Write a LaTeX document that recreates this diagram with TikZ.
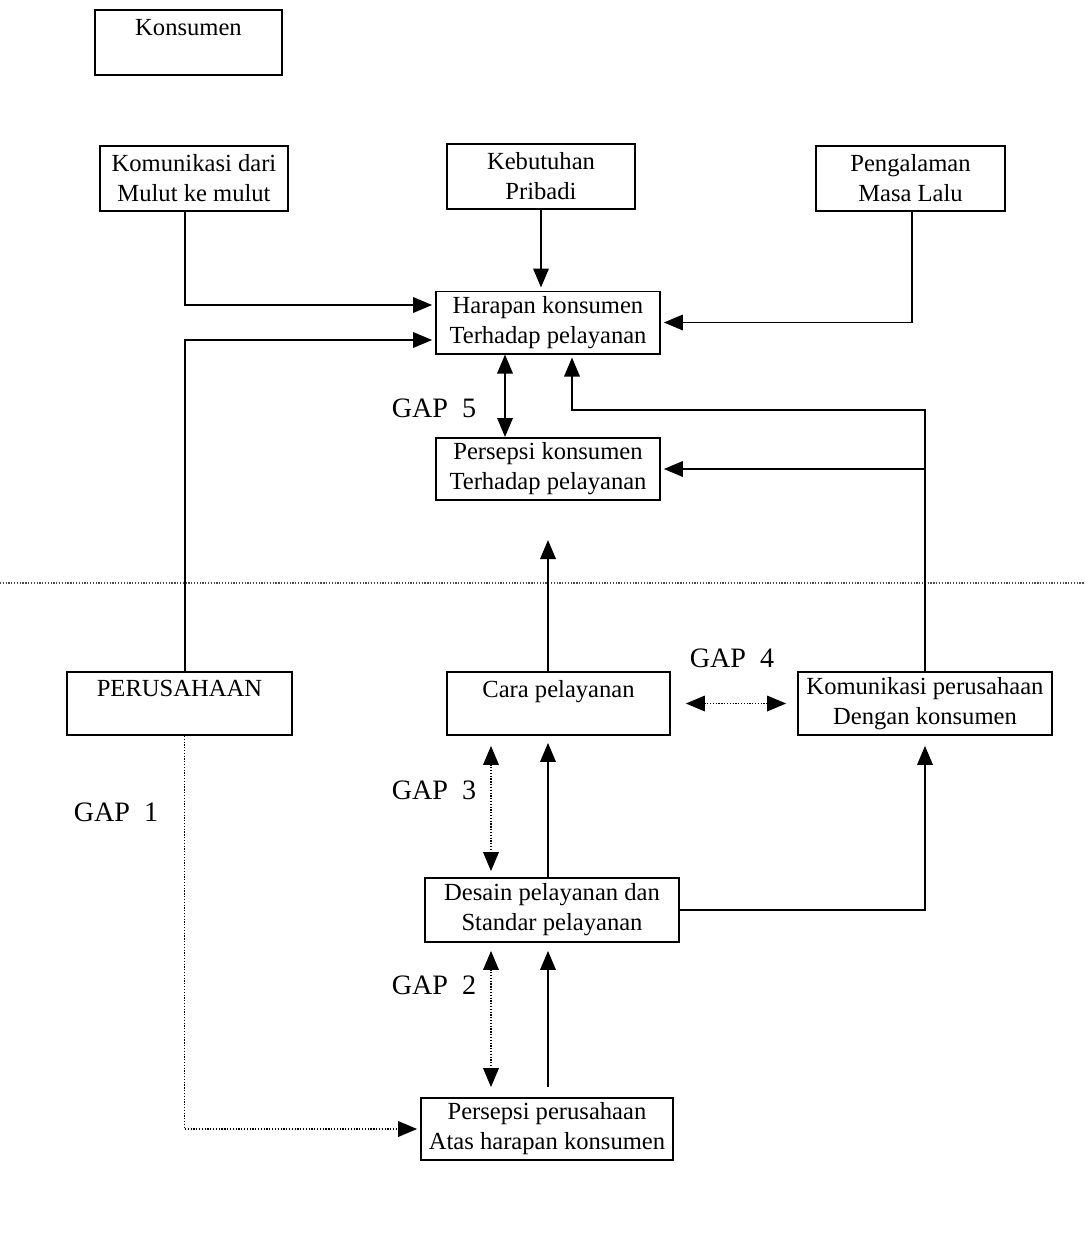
\documentclass[tikz,border=0pt]{standalone}
\usepackage{fontspec}
\setmainfont{Liberation Serif}
\usetikzlibrary{arrows.meta,positioning}

\begin{document}
\begin{tikzpicture}[x=0.02cm,y=-0.02cm,
	kotak/.style={draw,line width=1pt,align=center,inner sep=1mm,font=\fontsize{14}{17}\selectfont},
	panah/.style={line width=1pt,-{Triangle[length=3.8mm,width=3.1mm]},shorten >=0.6mm},
	panahdua/.style={line width=1pt,{Triangle[length=3.8mm,width=3.1mm]}-{Triangle[length=3.8mm,width=3.1mm]}},
	titik/.style={line width=0.7pt,dash pattern=on 0.7pt off 0.9pt},
	gap/.style={font=\fontsize{16}{19}\selectfont}]

	\useasboundingbox (0,0) rectangle (1085,1252);

	\node[kotak,minimum width=3.74cm,minimum height=1.3cm] (konsumen) at (188.5,42.5) {Konsumen\\ \mbox{}};
	\node[kotak,minimum width=3.76cm,minimum height=1.3cm] (mulut) at (194,178.5) {Komunikasi dari\\Mulut ke mulut};
	\node[kotak,minimum width=3.76cm,minimum height=1.3cm] (kebutuhan) at (541,176.5) {Kebutuhan\\Pribadi};
	\node[kotak,minimum width=3.78cm,minimum height=1.3cm] (pengalaman) at (910.5,178.5) {Pengalaman\\Masa Lalu};
	\node[kotak,minimum width=4.48cm,minimum height=1.22cm] (harapan) at (548,322.5) {Harapan konsumen\\Terhadap pelayanan};
	\node[kotak,minimum width=4.48cm,minimum height=1.24cm] (persepsi) at (548,469) {Persepsi konsumen\\Terhadap pelayanan};

	\node[kotak,minimum width=4.5cm,minimum height=1.26cm] (perusahaan) at (179.5,703.5) {PERUSAHAAN\\ \mbox{}};
	\node[kotak,minimum width=4.46cm,minimum height=1.26cm] (cara) at (558.5,703.5) {Cara pelayanan\\ \mbox{}};
	\node[kotak,minimum width=5.08cm,minimum height=1.26cm,inner sep=0.5mm] (kompers) at (925,703.5) {Komunikasi perusahaan\\Dengan konsumen};
	\node[kotak,minimum width=5.08cm,minimum height=1.28cm] (desain) at (552,910) {Desain pelayanan dan\\Standar pelayanan};
	\node[kotak,minimum width=5.04cm,minimum height=1.24cm,inner sep=0.5mm] (perspers) at (547,1129) {Persepsi perusahaan\\Atas harapan konsumen};

	\node[gap] (gap5) at (434,408) {GAP~~5};
	\node[gap] (gap4) at (732,658) {GAP~~4};
	\node[gap] (gap3) at (434,790) {GAP~~3};
	\node[gap] (gap1) at (116,812) {GAP~~1};
	\node[gap] (gap2) at (434,985) {GAP~~2};

	\coordinate (belok) at (572,410);
	\coordinate (ujung) at (548,540);
	\coordinate (kolom) at (491,0);

	% garis batas konsumen / perusahaan
	\draw[titik,black!70] (0,583) -- (1085,583);

	\draw[panah] ([xshift=-1.8mm]mulut.south) |- ([yshift=3.5mm]harapan.west);
	\draw[panah] ([xshift=1.1mm]perusahaan.north) |- ([yshift=-3.5mm]harapan.west);
	\draw[panah] (kebutuhan.south) -- (kebutuhan.south |- harapan.north);
	\draw[panah] ([xshift=0.3mm]pengalaman.south) |- (harapan.east);
	\draw[panahdua] ([xshift=-8.6mm]harapan.south) -- ([xshift=-8.6mm]persepsi.north);
	\draw[panah] (kompers.north) |- (belok) -- (belok |- harapan.south);
	\draw[panah] (kompers.north |- persepsi.east) -- (persepsi.east);
	\draw[panah,shorten >=0mm] (cara.north -| ujung) -- (ujung);

	\draw[titik,panahdua,shorten <=3mm,shorten >=2.2mm] (cara.east) -- (kompers.west);
	\draw[titik,panahdua,shorten <=2mm,shorten >=1.2mm] (cara.south -| kolom) -- (desain.north -| kolom);
	\draw[panah,shorten >=1.4mm] (desain.north -| ujung) -- (cara.south -| ujung);
	\draw[panah,shorten >=2mm] (desain.east) -| (kompers.south);
	\draw[titik,panahdua,shorten <=1.6mm,shorten >=2mm] (desain.south -| kolom) -- (perspers.north -| kolom);
	\draw[panah,shorten <=2mm,shorten >=1.6mm] (perspers.north -| ujung) -- (desain.south -| ujung);
	\draw[titik,panah] ([xshift=1mm]perusahaan.south) |- (perspers.west);

\end{tikzpicture}
\end{document}
